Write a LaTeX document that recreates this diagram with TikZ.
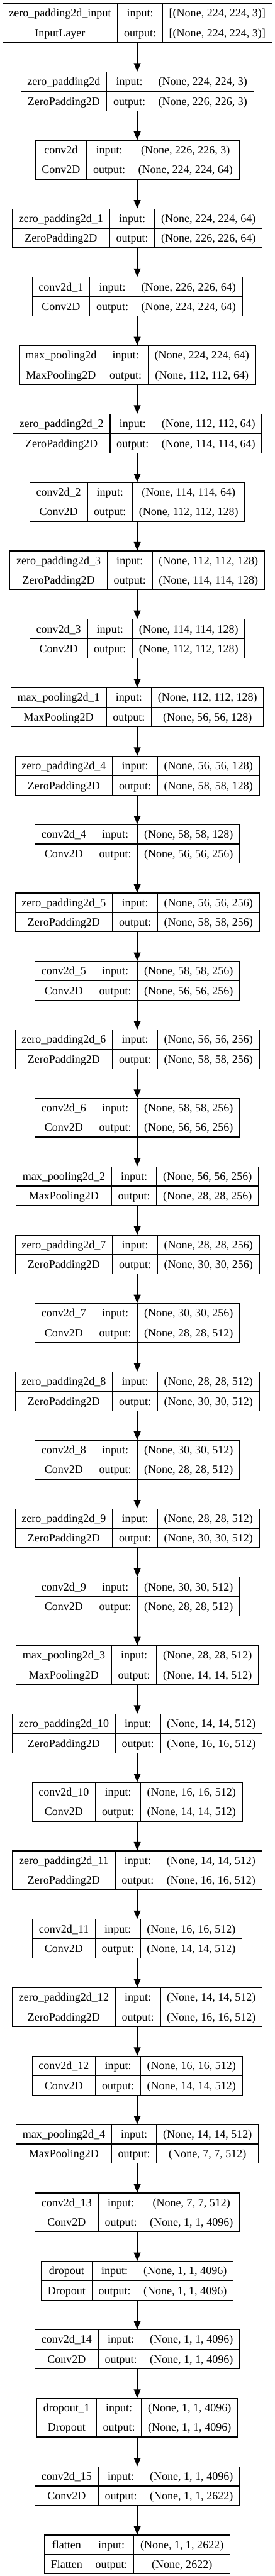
\documentclass[tikz,border=0pt]{standalone}
\usepackage{fontspec}
\setmainfont{Liberation Serif}
\usepackage{tikz}
\usetikzlibrary{positioning,arrows.meta}
\renewcommand{\arraystretch}{1.4}
\setlength{\tabcolsep}{8pt}
\setlength{\arrayrulewidth}{0.9pt}
\newcommand{\layerbox}[4]{%
    \begin{tabular}{c|c|c}
        #1 & input: & #3 \\ \hline
        #2 & output: & #4
    \end{tabular}}
\tikzstyle{tsLayer} = [
    rectangle,
    draw=black,
    line width=0.9pt,
    inner sep=0pt,
    fill=white,
    font=\fontsize{14pt}{16.8pt}\selectfont
]
\tikzstyle{tsArrow} = [
    -{Triangle[length=10.5pt,width=8.5pt]},
    line width=0.9pt
]
\begin{document}
\begin{tikzpicture}[node distance=35.7pt]

        \useasboundingbox (-169.5pt,4pt) rectangle (169.5pt,-3179pt);

        \node[tsLayer, anchor=north] (inp) at (0,0) {\layerbox{zero\_padding2d\_input}{InputLayer}{[(None, 224, 224, 3)]}{[(None, 224, 224, 3)]}};
        \node[tsLayer, below=of inp] (zp) {\layerbox{zero\_padding2d}{ZeroPadding2D}{(None, 224, 224, 3)}{(None, 226, 226, 3)}};
        \node[tsLayer, below=of zp] (cv) {\layerbox{conv2d}{Conv2D}{(None, 226, 226, 3)}{(None, 224, 224, 64)}};
        \node[tsLayer, below=of cv] (zp1) {\layerbox{zero\_padding2d\_1}{ZeroPadding2D}{(None, 224, 224, 64)}{(None, 226, 226, 64)}};
        \node[tsLayer, below=of zp1] (cv1) {\layerbox{conv2d\_1}{Conv2D}{(None, 226, 226, 64)}{(None, 224, 224, 64)}};
        \node[tsLayer, below=of cv1] (mp) {\layerbox{max\_pooling2d}{MaxPooling2D}{(None, 224, 224, 64)}{(None, 112, 112, 64)}};
        \node[tsLayer, below=of mp] (zp2) {\layerbox{zero\_padding2d\_2}{ZeroPadding2D}{(None, 112, 112, 64)}{(None, 114, 114, 64)}};
        \node[tsLayer, below=of zp2] (cv2) {\layerbox{conv2d\_2}{Conv2D}{(None, 114, 114, 64)}{(None, 112, 112, 128)}};
        \node[tsLayer, below=of cv2] (zp3) {\layerbox{zero\_padding2d\_3}{ZeroPadding2D}{(None, 112, 112, 128)}{(None, 114, 114, 128)}};
        \node[tsLayer, below=of zp3] (cv3) {\layerbox{conv2d\_3}{Conv2D}{(None, 114, 114, 128)}{(None, 112, 112, 128)}};
        \node[tsLayer, below=of cv3] (mp1) {\layerbox{max\_pooling2d\_1}{MaxPooling2D}{(None, 112, 112, 128)}{(None, 56, 56, 128)}};
        \node[tsLayer, below=of mp1] (zp4) {\layerbox{zero\_padding2d\_4}{ZeroPadding2D}{(None, 56, 56, 128)}{(None, 58, 58, 128)}};
        \node[tsLayer, below=of zp4] (cv4) {\layerbox{conv2d\_4}{Conv2D}{(None, 58, 58, 128)}{(None, 56, 56, 256)}};
        \node[tsLayer, below=of cv4] (zp5) {\layerbox{zero\_padding2d\_5}{ZeroPadding2D}{(None, 56, 56, 256)}{(None, 58, 58, 256)}};
        \node[tsLayer, below=of zp5] (cv5) {\layerbox{conv2d\_5}{Conv2D}{(None, 58, 58, 256)}{(None, 56, 56, 256)}};
        \node[tsLayer, below=of cv5] (zp6) {\layerbox{zero\_padding2d\_6}{ZeroPadding2D}{(None, 56, 56, 256)}{(None, 58, 58, 256)}};
        \node[tsLayer, below=of zp6] (cv6) {\layerbox{conv2d\_6}{Conv2D}{(None, 58, 58, 256)}{(None, 56, 56, 256)}};
        \node[tsLayer, below=of cv6] (mp2) {\layerbox{max\_pooling2d\_2}{MaxPooling2D}{(None, 56, 56, 256)}{(None, 28, 28, 256)}};
        \node[tsLayer, below=of mp2] (zp7) {\layerbox{zero\_padding2d\_7}{ZeroPadding2D}{(None, 28, 28, 256)}{(None, 30, 30, 256)}};
        \node[tsLayer, below=of zp7] (cv7) {\layerbox{conv2d\_7}{Conv2D}{(None, 30, 30, 256)}{(None, 28, 28, 512)}};
        \node[tsLayer, below=of cv7] (zp8) {\layerbox{zero\_padding2d\_8}{ZeroPadding2D}{(None, 28, 28, 512)}{(None, 30, 30, 512)}};
        \node[tsLayer, below=of zp8] (cv8) {\layerbox{conv2d\_8}{Conv2D}{(None, 30, 30, 512)}{(None, 28, 28, 512)}};
        \node[tsLayer, below=of cv8] (zp9) {\layerbox{zero\_padding2d\_9}{ZeroPadding2D}{(None, 28, 28, 512)}{(None, 30, 30, 512)}};
        \node[tsLayer, below=of zp9] (cv9) {\layerbox{conv2d\_9}{Conv2D}{(None, 30, 30, 512)}{(None, 28, 28, 512)}};
        \node[tsLayer, below=of cv9] (mp3) {\layerbox{max\_pooling2d\_3}{MaxPooling2D}{(None, 28, 28, 512)}{(None, 14, 14, 512)}};
        \node[tsLayer, below=of mp3] (zp10) {\layerbox{zero\_padding2d\_10}{ZeroPadding2D}{(None, 14, 14, 512)}{(None, 16, 16, 512)}};
        \node[tsLayer, below=of zp10] (cv10) {\layerbox{conv2d\_10}{Conv2D}{(None, 16, 16, 512)}{(None, 14, 14, 512)}};
        \node[tsLayer, below=of cv10] (zp11) {\layerbox{zero\_padding2d\_11}{ZeroPadding2D}{(None, 14, 14, 512)}{(None, 16, 16, 512)}};
        \node[tsLayer, below=of zp11] (cv11) {\layerbox{conv2d\_11}{Conv2D}{(None, 16, 16, 512)}{(None, 14, 14, 512)}};
        \node[tsLayer, below=of cv11] (zp12) {\layerbox{zero\_padding2d\_12}{ZeroPadding2D}{(None, 14, 14, 512)}{(None, 16, 16, 512)}};
        \node[tsLayer, below=of zp12] (cv12) {\layerbox{conv2d\_12}{Conv2D}{(None, 16, 16, 512)}{(None, 14, 14, 512)}};
        \node[tsLayer, below=of cv12] (mp4) {\layerbox{max\_pooling2d\_4}{MaxPooling2D}{(None, 14, 14, 512)}{(None, 7, 7, 512)}};
        \node[tsLayer, below=of mp4] (cv13) {\layerbox{conv2d\_13}{Conv2D}{(None, 7, 7, 512)}{(None, 1, 1, 4096)}};
        \node[tsLayer, below=of cv13] (dr) {\layerbox{dropout}{Dropout}{(None, 1, 1, 4096)}{(None, 1, 1, 4096)}};
        \node[tsLayer, below=of dr] (cv14) {\layerbox{conv2d\_14}{Conv2D}{(None, 1, 1, 4096)}{(None, 1, 1, 4096)}};
        \node[tsLayer, below=of cv14] (dr1) {\layerbox{dropout\_1}{Dropout}{(None, 1, 1, 4096)}{(None, 1, 1, 4096)}};
        \node[tsLayer, below=of dr1] (cv15) {\layerbox{conv2d\_15}{Conv2D}{(None, 1, 1, 4096)}{(None, 1, 1, 2622)}};
        \node[tsLayer, below=of cv15] (fl) {\layerbox{flatten}{Flatten}{(None, 1, 1, 2622)}{(None, 2622)}};

        \draw[tsArrow] (inp) -- (zp);
        \draw[tsArrow] (zp) -- (cv);
        \draw[tsArrow] (cv) -- (zp1);
        \draw[tsArrow] (zp1) -- (cv1);
        \draw[tsArrow] (cv1) -- (mp);
        \draw[tsArrow] (mp) -- (zp2);
        \draw[tsArrow] (zp2) -- (cv2);
        \draw[tsArrow] (cv2) -- (zp3);
        \draw[tsArrow] (zp3) -- (cv3);
        \draw[tsArrow] (cv3) -- (mp1);
        \draw[tsArrow] (mp1) -- (zp4);
        \draw[tsArrow] (zp4) -- (cv4);
        \draw[tsArrow] (cv4) -- (zp5);
        \draw[tsArrow] (zp5) -- (cv5);
        \draw[tsArrow] (cv5) -- (zp6);
        \draw[tsArrow] (zp6) -- (cv6);
        \draw[tsArrow] (cv6) -- (mp2);
        \draw[tsArrow] (mp2) -- (zp7);
        \draw[tsArrow] (zp7) -- (cv7);
        \draw[tsArrow] (cv7) -- (zp8);
        \draw[tsArrow] (zp8) -- (cv8);
        \draw[tsArrow] (cv8) -- (zp9);
        \draw[tsArrow] (zp9) -- (cv9);
        \draw[tsArrow] (cv9) -- (mp3);
        \draw[tsArrow] (mp3) -- (zp10);
        \draw[tsArrow] (zp10) -- (cv10);
        \draw[tsArrow] (cv10) -- (zp11);
        \draw[tsArrow] (zp11) -- (cv11);
        \draw[tsArrow] (cv11) -- (zp12);
        \draw[tsArrow] (zp12) -- (cv12);
        \draw[tsArrow] (cv12) -- (mp4);
        \draw[tsArrow] (mp4) -- (cv13);
        \draw[tsArrow] (cv13) -- (dr);
        \draw[tsArrow] (dr) -- (cv14);
        \draw[tsArrow] (cv14) -- (dr1);
        \draw[tsArrow] (dr1) -- (cv15);
        \draw[tsArrow] (cv15) -- (fl);

\end{tikzpicture}
\end{document}
